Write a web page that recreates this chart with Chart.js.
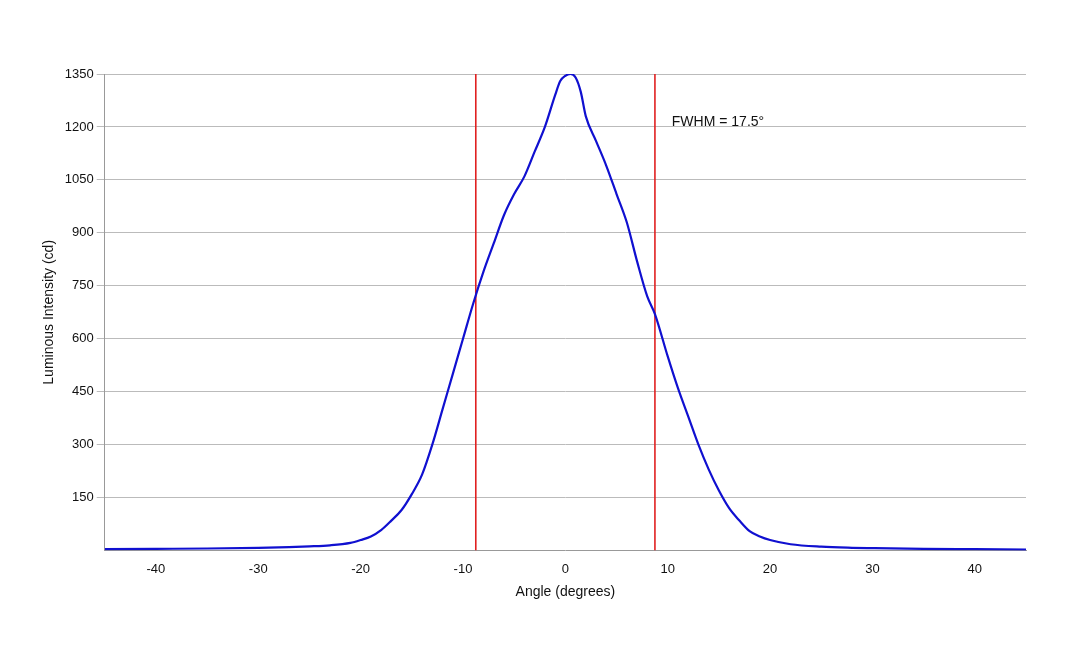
<!DOCTYPE html><html><head><script src="https://cdn.jsdelivr.net/npm/chart.js@4"></script>
<style>body{margin:0;background:#fff}#w{width:1080px;height:648px}</style></head><body><div id="w"><canvas id="c"></canvas></div>
<script>
const angles=[-45,-40,-35,-30,-27,-25,-23,-21,-20,-19,-18,-17,-16,-15,-14,-13,-12,-11,-10,-9,-8,-7,-6,-5,-4,-3,-2,-1,-0.5,0,0.5,1,1.5,2,3,4,5,6,7,8,8.75,10,11,12,13,14,15,16,17,18,19,20,22,25,28,30,35,40,45];
const intensity=[4,5,6,8,10,12,15,22,30,40,58,85,115,160,215,300,400,500,600,700,790,870,950,1010,1060,1130,1200,1290,1330,1345,1350,1340,1300,1230,1160,1090,1010,930,820,720,670,550,460,380,300,230,170,120,85,55,40,30,18,11,8,7,5,4,3];
const fwhmLines=[-8.75,8.75];
const fwhmLabel="FWHM = 17.5°";
const yTicks=[150,300,450,600,750,900,1050,1200,1350];
const xTicks=[-40,-30,-20,-10,0,10,20,30,40];
const ds=[{data:angles.map((a,i)=>({x:a,y:intensity[i]})),borderColor:'#1010d0',borderWidth:2.2,showLine:true,pointRadius:0,cubicInterpolationMode:'monotone'}];
fwhmLines.forEach(v=>ds.push({data:[{x:v,y:0},{x:v,y:1350}],borderColor:'#e02020',borderWidth:1.6,showLine:true,pointRadius:0}));
const lbl={id:'lbl',afterDraw(c){const g=c.ctx,x=c.scales.x,y=c.scales.y;g.save();g.font='14px "Liberation Sans",Arial';g.fillStyle='#111';g.textBaseline='middle';g.fillText(fwhmLabel,x.getPixelForValue(10.4),y.getPixelForValue(1215));g.restore();}};
new Chart(document.getElementById('c'),{type:'scatter',data:{datasets:ds},plugins:[lbl],options:{responsive:true,maintainAspectRatio:false,animation:false,
layout:{padding:{left:37,top:74,right:54,bottom:43}},
plugins:{legend:{display:false},tooltip:{enabled:false}},
scales:{x:{type:'linear',min:-45,max:45,afterBuildTicks:s=>{s.ticks=xTicks.map(v=>({value:v}))},grid:{display:false,drawOnChartArea:false},border:{color:'#999'},ticks:{color:'#111',font:{family:'Liberation Sans',size:13}},title:{display:true,text:'Angle (degrees)',color:'#111',font:{family:'Liberation Sans',size:14}}},
y:{min:0,max:1350,afterBuildTicks:s=>{s.ticks=yTicks.map(v=>({value:v}))},grid:{color:'#bbb',drawTicks:true},border:{color:'#999'},ticks:{color:'#111',font:{family:'Liberation Sans',size:13},callback:v=>String(v)},title:{display:true,text:'Luminous Intensity (cd)',color:'#111',font:{family:'Liberation Sans',size:14}}}}}});
</script></body></html>
